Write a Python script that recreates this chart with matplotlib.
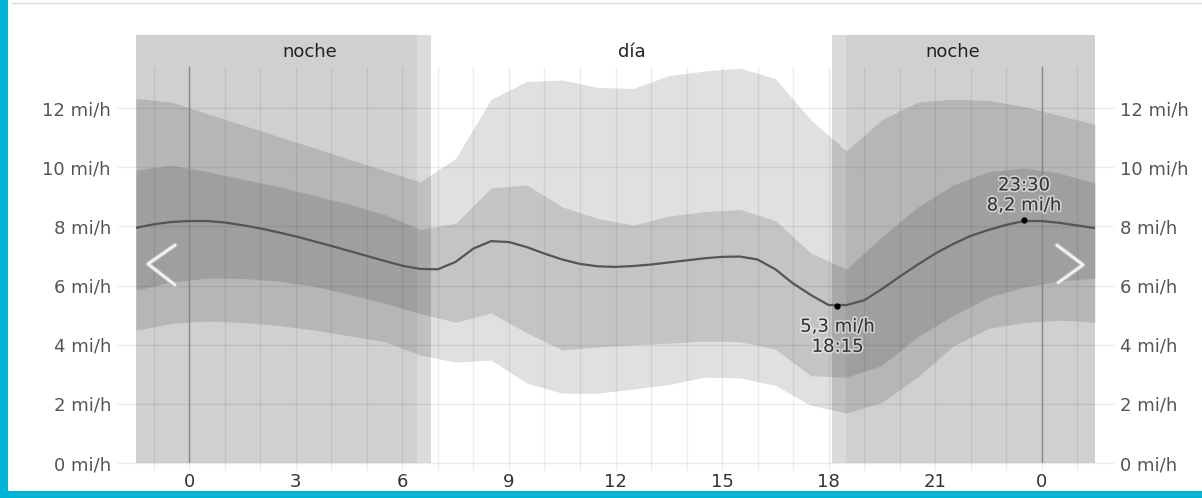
import numpy as np
import matplotlib
matplotlib.use("Agg")
import matplotlib.pyplot as plt
import matplotlib.patheffects as pe

# data (mi/h)
band_hours = np.arange(-1.5, 26, 1.0)
outer_upper = [12.33, 12.2, 11.81, 11.43, 11.04, 10.66, 10.27, 9.89, 9.5, 10.3, 12.3, 12.9, 12.95, 12.7,
               12.66, 13.1, 13.25, 13.35, 13.0, 11.6, 10.55, 11.6, 12.2, 12.3, 12.26, 12.05, 11.75, 11.45]
inner_upper = [9.9, 10.07, 9.85, 9.6, 9.35, 9.05, 8.75, 8.4, 7.9, 8.1, 9.3, 9.4, 8.66, 8.27,
               8.04, 8.35, 8.5, 8.57, 8.2, 7.1, 6.55, 7.65, 8.65, 9.4, 9.85, 9.97, 9.8, 9.46]
inner_lower = [5.84, 6.12, 6.25, 6.24, 6.15, 5.98, 5.7, 5.4, 5.05, 4.76, 5.07, 4.4, 3.82, 3.92,
               4.0, 4.05, 4.12, 4.1, 3.85, 2.95, 2.9, 3.3, 4.26, 4.98, 5.6, 5.95, 6.15, 6.25]
outer_lower = [4.49, 4.72, 4.8, 4.75, 4.65, 4.5, 4.3, 4.1, 3.65, 3.41, 3.48, 2.7, 2.36, 2.36,
               2.5, 2.65, 2.9, 2.88, 2.62, 1.95, 1.69, 2.05, 2.9, 3.95, 4.55, 4.75, 4.83, 4.76]

median_hours = np.arange(-1.5, 25.75, 0.5)
median = [7.95, 8.07, 8.15, 8.18, 8.18, 8.13, 8.04, 7.93, 7.8, 7.66, 7.5, 7.34, 7.17, 7.0,
          6.83, 6.67, 6.56, 6.55, 6.8, 7.25, 7.5, 7.47, 7.3, 7.08, 6.88, 6.73, 6.65, 6.63,
          6.66, 6.71, 6.78, 6.85, 6.92, 6.97, 6.98, 6.88, 6.55, 6.07, 5.68, 5.34, 5.34, 5.5,
          5.88, 6.3, 6.7, 7.08, 7.4, 7.68, 7.88, 8.05, 8.18, 8.18, 8.12, 8.03, 7.94]

min_point = (18.25, 5.3)
max_point = (23.5, 8.2)
min_label = "5,3 mi/h\n18:15"
max_label = "23:30\n8,2 mi/h"

# night / twilight spans (hours)
night_spans = [(-1.5, 6.4), (18.5, 25.5)]
twilight_spans = [(6.4, 6.8), (18.1, 18.5)]
period_labels = ["noche", "día", "noche"]
period_centers = [3.4, 12.45, 21.5]

x_ticks = [0, 3, 6, 9, 12, 15, 18, 21, 24]
x_labels = ["0", "3", "6", "9", "12", "15", "18", "21", "0"]
y_ticks = [0, 2, 4, 6, 8, 10, 12]
y_labels = [str(v) + " mi/h" for v in y_ticks]

plt.rcParams['font.family'] = ['DejaVu Sans']

fig = plt.figure(figsize=(12.02, 4.98), dpi=100)
ax = fig.add_axes([136/1202, 35/498, 959/1202, 428/498])
ax.set_xlim(-1.5, 25.5)
ax.set_ylim(0, 14.47)

for a, b in night_spans:
    ax.axvspan(a, b, color='#d0d0d0', lw=0, zorder=0)
for a, b in twilight_spans:
    ax.axvspan(a, b, color='#dbdbdb', lw=0, zorder=0)

# bands
ax.fill_between(band_hours, outer_lower, outer_upper, color='black', alpha=0.12, lw=0, zorder=1)
ax.fill_between(band_hours, inner_lower, inner_upper, color='black', alpha=0.12, lw=0, zorder=1)

# grid
top_grid = 13.4
for h in range(-1, 26):
    ax.plot([h, h], [-0.25, top_grid], color='black', alpha=0.07, lw=1, zorder=2, clip_on=False)
for h in [0, 24]:
    ax.plot([h, h], [0, top_grid], color='#8a8a8a', lw=1, zorder=2)
trans = ax.get_yaxis_transform()
for v in y_ticks:
    ax.plot([-0.019, 1.019], [v, v], transform=trans, color='black', alpha=0.07, lw=1,
            zorder=2, clip_on=False)

# median line and extremes
ax.plot(median_hours, median, color='#555555', lw=1.6, zorder=3)
ax.plot(*min_point, 'o', color='black', ms=3.5, zorder=4)
ax.plot(*max_point, 'o', color='black', ms=3.5, zorder=4)
halo = [pe.withStroke(linewidth=2.5, foreground='white', alpha=0.5)]
ax.annotate(min_label, min_point, xytext=(0, -22), textcoords='offset points', ha='center',
            va='center', fontsize=13, color='#333333', linespacing=1.15, path_effects=halo, zorder=5)
ax.annotate(max_label, max_point, xytext=(0, 18), textcoords='offset points', ha='center',
            va='center', fontsize=13, color='#333333', linespacing=1.15, path_effects=halo, zorder=5)

for lab, c in zip(period_labels, period_centers):
    ax.text(c, 13.9, lab, ha='center', va='center', fontsize=13, color='#222222', zorder=5)

# navigation chevrons
chev = [pe.withStroke(linewidth=3.5, foreground='#b8b8b8')]
ax.plot([0.0407, 0.0125, 0.0407], [0.509, 0.465, 0.416], transform=ax.transAxes, color='#f2f2f2',
        lw=2, zorder=6, path_effects=chev, solid_capstyle='round')
ax.plot([0.9604, 0.9875, 0.9614], [0.509, 0.463, 0.421], transform=ax.transAxes, color='#f2f2f2',
        lw=2, zorder=6, path_effects=chev, solid_capstyle='round')

ax.set_xticks(x_ticks)
ax.set_xticklabels(x_labels)
ax.set_yticks(y_ticks)
ax.set_yticklabels(y_labels)
ax.tick_params(axis='x', length=0, pad=7, labelsize=13, labelcolor='#333333')
ax.tick_params(axis='y', length=0, pad=18, labelsize=13, labelcolor='#555555',
               labelleft=True, labelright=True)
for s in ax.spines.values():
    s.set_visible(False)

# page frame
fig.add_artist(plt.Line2D([12/1202, 1], [1 - 3/498, 1 - 3/498], color='#dddddd', lw=1))
fig.add_artist(plt.Rectangle((0, 0), 8/1202, 1, color='#00b4d8', lw=0))
fig.add_artist(plt.Rectangle((0, 0), 1, 7/498, color='#00b4d8', lw=0))

fig.savefig("out.png", dpi=100, facecolor='white')
